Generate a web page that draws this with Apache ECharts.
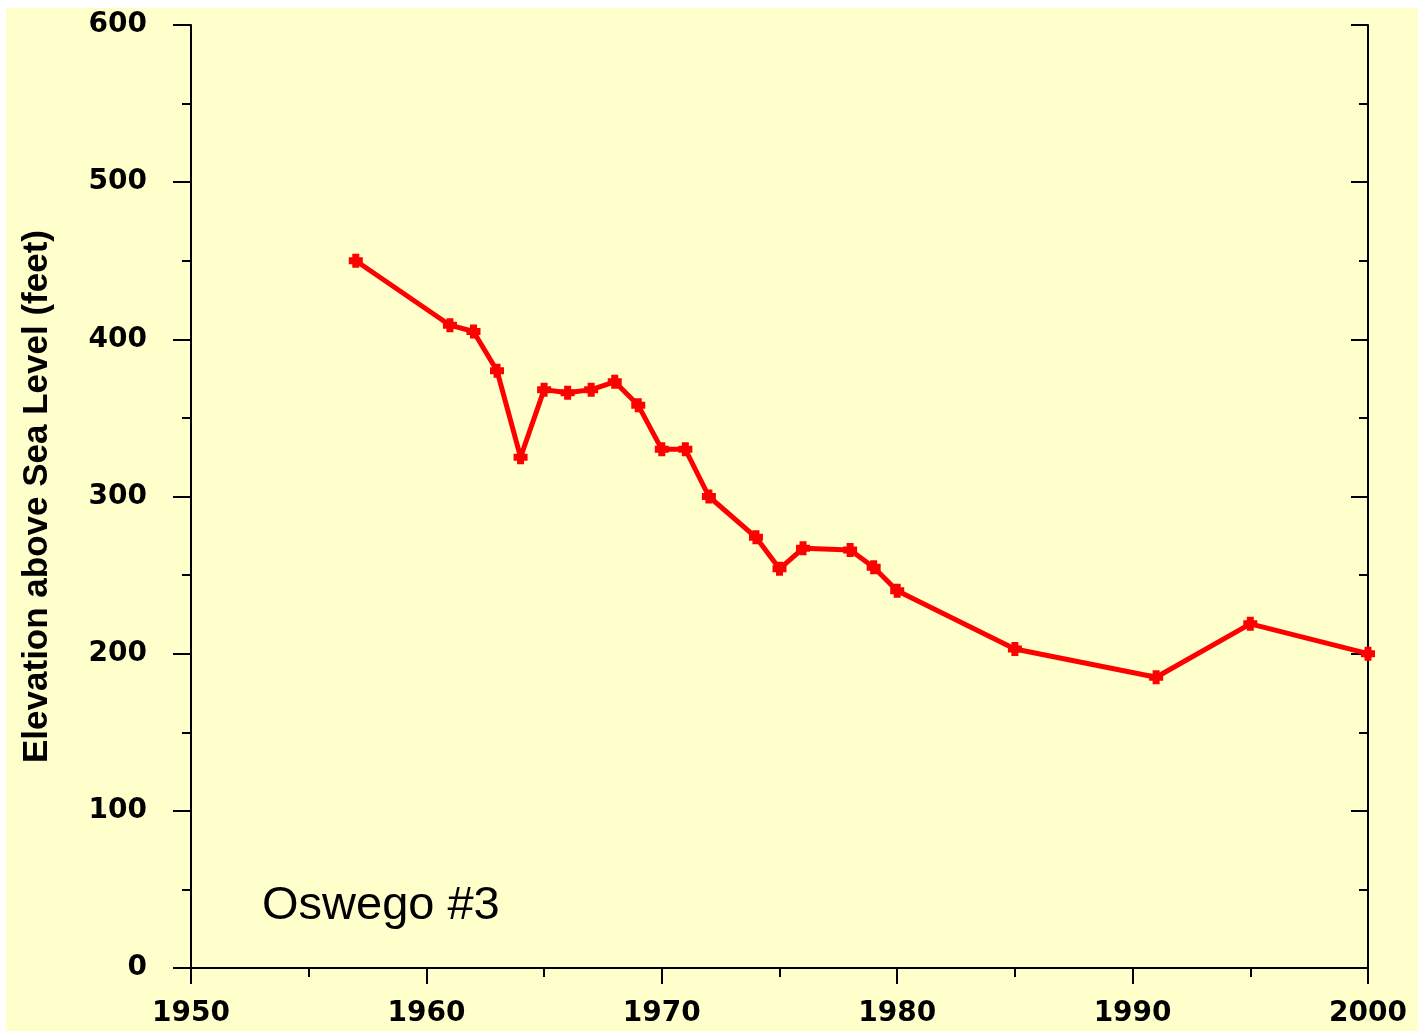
<!DOCTYPE html>
<html>
<head>
<meta charset="utf-8">
<script src="https://cdn.jsdelivr.net/npm/echarts@6/dist/echarts.min.js"></script>
<style>
html,body{margin:0;padding:0;background:#ffffff;}
#chart{width:1418px;height:1031px;}
</style>
</head>
<body>
<div id="chart"></div>
<script>
var years = [1957, 1961, 1962, 1963, 1964, 1965, 1966, 1967, 1968, 1969, 1970, 1971, 1972, 1974, 1975, 1976, 1978, 1979, 1980, 1985, 1991, 1995, 2000];
var elevations = [450, 409, 405, 380, 325, 368, 366, 368, 373, 358, 330, 330, 300, 274, 254, 267, 266, 255, 240, 203, 185, 219, 200];
var yAxisTitle = 'Elevation above Sea Level (feet)';
var wellLabel = 'Oswego #3';

var points = years.map(function (y, i) { return [y, elevations[i]]; });

var axisCommon = {
  axisLine: { show: true, lineStyle: { color: '#000', width: 2 } },
  splitLine: { show: false }
};

var chart = echarts.init(document.getElementById('chart'), null, { renderer: 'canvas' });
chart.setOption({
  backgroundColor: '#ffffff',
  animation: false,
  grid: { left: 191, top: 25, right: 50, bottom: 63, containLabel: false },
  graphic: [
    { type: 'rect', left: 6, top: 8, shape: { width: 1412, height: 1023 }, style: { fill: '#ffffcc' }, z: -10, silent: true },
    { type: 'text', left: 262, top: 883, style: { text: wellLabel, fill: '#000', font: '47px "Liberation Sans", Arial, sans-serif' }, z: 10 }
  ],
  xAxis: [
    Object.assign({}, axisCommon, {
      type: 'value', position: 'bottom', min: 1950, max: 2000, interval: 10,
      axisTick: { show: true, inside: false, length: 16, lineStyle: { color: '#000', width: 2 } },
      minorTick: { show: true, splitNumber: 2, length: 9, lineStyle: { color: '#000', width: 2 } },
      minorSplitLine: { show: false },
      axisLabel: { show: true, margin: 32, color: '#000', fontFamily: 'DejaVu Sans', fontWeight: 'bold', fontSize: 28,
        formatter: function (v) { return String(v); } }
    }),
    Object.assign({}, axisCommon, {
      type: 'value', position: 'top', min: 1950, max: 2000, interval: 10,
      axisTick: { show: true, inside: true, length: 15, lineStyle: { color: '#000', width: 2 } },
      minorTick: { show: true, splitNumber: 2, length: 8, lineStyle: { color: '#000', width: 2 } },
      axisLabel: { show: false }
    })
  ],
  yAxis: [
    Object.assign({}, axisCommon, {
      type: 'value', position: 'left', min: 0, max: 600, interval: 100,
      axisTick: { show: true, inside: false, length: 18, lineStyle: { color: '#000', width: 2 } },
      minorTick: { show: true, splitNumber: 2, length: 9, lineStyle: { color: '#000', width: 2 } },
      axisLabel: { show: true, margin: 44, color: '#000', fontFamily: 'DejaVu Sans', fontWeight: 'bold', fontSize: 28 },
      name: yAxisTitle, nameLocation: 'middle', nameGap: 136, nameRotate: 90,
      nameTextStyle: { color: '#000', fontFamily: 'Liberation Sans', fontWeight: 'bold', fontSize: 35 }
    }),
    Object.assign({}, axisCommon, {
      type: 'value', position: 'right', min: 0, max: 600, interval: 100,
      axisTick: { show: true, inside: true, length: 17, lineStyle: { color: '#000', width: 2 } },
      minorTick: { show: true, splitNumber: 2, length: 9, lineStyle: { color: '#000', width: 2 } },
      axisLabel: { show: false }
    })
  ],
  series: [{
    type: 'line',
    xAxisIndex: 0, yAxisIndex: 0,
    data: points,
    lineStyle: { color: '#ff0000', width: 5 },
    itemStyle: { color: '#ff0000' },
    symbol: 'path://M2.5,0H7.5V2.5H10V7.5H7.5V10H2.5V7.5H0V2.5H2.5Z',
    symbolSize: 14,
    z: 5
  }]
});
</script>
</body>
</html>
